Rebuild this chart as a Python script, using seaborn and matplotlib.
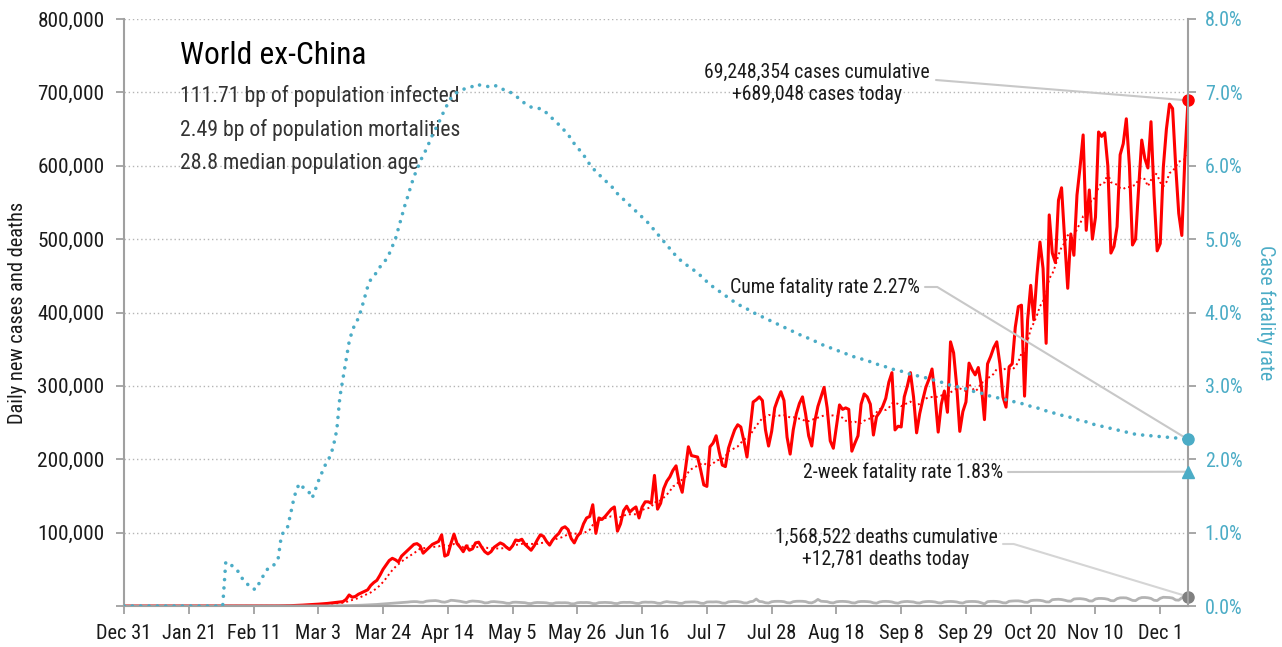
import numpy as np
import pandas as pd
import matplotlib
matplotlib.use('Agg')
import matplotlib.pyplot as plt
from matplotlib import font_manager as fm
import seaborn as sns

# daily data, Dec 31 2019 .. Dec 10 2020
start_date = '2019-12-31'

# new cases per day, thousands
cases_k = [
    0, 0, 0, 0, 0, 0, 0, 0, 0, 0, 0, 0, 0, 0, 0, 0, 0, 0, 0, 0, 0, 0, 0, 0, 0, 0, 0, 0, 0, 0,
    0.01, 0.02, 0.02, 0.02, 0.03, 0.03, 0.04, 0.03, 0.05, 0.04, 0.06, 0.05, 0.04, 0.05, 0.06,
    0.07, 0.08, 0.09, 0.1, 0.12, 0.15, 0.2, 0.3, 0.35, 0.45, 0.6, 0.8, 1.0, 1.2, 1.5,
    1.8, 2.0, 2.2, 2.5, 2.8, 3.0, 3.5, 4.0, 4.5, 5.0,
    5.5, 6, 9, 15, 12, 13, 16, 18, 20, 22,
    28, 32, 35, 42, 50, 56, 62, 65, 63, 60,
    68, 72, 76, 80, 84, 85, 82, 72, 76, 80,
    84, 86, 88, 97, 68, 70, 85, 98, 85, 80,
    74, 82, 76, 78, 86, 87, 80, 74, 71, 74,
    80, 83, 86, 84, 80, 77, 82, 90, 89, 91,
    84, 80, 76, 82, 90, 97, 95, 88, 83, 90,
    95, 99, 106, 108, 104, 92, 86, 95, 100, 112,
    120, 122, 138, 99, 120, 118, 122, 127, 132, 135,
    102, 112, 130, 136, 128, 132, 135, 120, 135, 142,
    142, 140, 178, 132, 140, 160, 170, 176, 185, 191,
    168, 155, 185, 217, 205, 204, 203, 185, 165, 163,
    217, 222, 232, 210, 192, 190, 215, 228, 240, 247,
    244, 225, 203, 240, 278, 281, 285, 280, 240, 218,
    238, 270, 282, 292, 280, 230, 207, 240, 262, 276,
    285, 262, 232, 218, 252, 272, 285, 298, 270, 225,
    215, 245, 274, 268, 270, 268, 211, 222, 232, 275,
    289, 285, 275, 233, 258, 264, 272, 283, 305, 318,
    240, 245, 244, 285, 300, 318, 285, 236, 262, 281,
    298, 309, 323, 285, 237, 275, 293, 264, 360, 345,
    300, 238, 265, 278, 331, 322, 315, 325, 300, 254,
    330, 340, 352, 360, 330, 285, 271, 326, 330, 380,
    408, 410, 286, 390, 437, 390, 450, 496, 460, 358,
    533, 481, 468, 553, 570, 500, 433, 507, 478, 560,
    598, 642, 512, 567, 500, 530, 646, 640, 645, 600,
    481, 490, 517, 615, 630, 664, 600, 492, 500, 570,
    635, 610, 597, 660, 560, 484, 494, 598, 650, 684,
    678, 600, 535, 505, 612, 689.048,
]

# new deaths per day, thousands
deaths_k = [
    0, 0, 0, 0, 0, 0, 0, 0, 0, 0, 0, 0, 0, 0, 0, 0, 0, 0, 0, 0, 0, 0, 0, 0, 0,
    0, 0, 0, 0, 0, 0, 0, 0, 0, 0, 0, 0, 0, 0, 0, 0, 0, 0, 0, 0, 0, 0, 0, 0, 0,
    0.01, 0.01, 0.02, 0.02, 0.03, 0.03, 0.04, 0.05, 0.05, 0.06,
    0.07, 0.08, 0.1, 0.1, 0.12, 0.15, 0.18, 0.2, 0.25, 0.3,
    0.35, 0.4, 0.5, 0.55, 0.7, 0.8, 0.9, 1.1, 1.3, 1.5,
    1.7, 1.9, 2.1, 2.5, 2.8, 3.1, 3.3, 3.6, 4.0, 4.3,
    4.6, 5.0, 5.3, 5.8, 6.0, 5.9, 5.2, 5.1, 6.5, 7.0,
    7.2, 7.4, 6.8, 5.6, 5.2, 6.2, 7.8, 7.5, 7.0, 6.4,
    5.5, 4.8, 6.2, 6.8, 6.5, 6.2, 5.5, 4.2, 4.5, 5.8,
    6.0, 5.6, 5.3, 4.8, 3.8, 3.6, 5.0, 5.2, 5.0, 4.8,
    4.5, 3.5, 3.3, 4.4, 4.8, 4.7, 4.6, 4.3, 3.4, 3.2,
    4.3, 4.5, 4.4, 4.5, 4.2, 3.0, 3.0, 4.4, 4.8, 4.7,
    4.8, 4.5, 3.3, 3.2, 4.6, 4.8, 4.9, 4.7, 4.5, 3.5,
    3.3, 4.7, 5.0, 4.9, 5.0, 4.6, 3.6, 3.4, 5.0, 5.3,
    5.1, 5.2, 4.9, 3.8, 3.6, 5.2, 6.0, 5.3, 5.1, 4.8,
    3.7, 3.6, 5.2, 5.4, 5.5, 5.5, 5.1, 3.8, 3.5, 5.4,
    5.6, 5.5, 5.7, 5.3, 4.0, 3.8, 5.6, 6.0, 6.2, 6.0,
    5.4, 4.2, 4.1, 5.8, 6.4, 9.5, 6.2, 5.8, 4.4, 4.0,
    5.8, 6.3, 6.4, 6.3, 5.9, 4.5, 4.2, 5.9, 6.4, 6.5,
    6.4, 6.0, 4.6, 4.3, 6.0, 9.0, 6.5, 6.2, 5.9, 4.6,
    4.2, 5.7, 6.2, 6.3, 6.1, 5.6, 4.4, 4.1, 5.7, 6.2,
    6.2, 6.0, 5.6, 4.3, 3.8, 5.5, 6.2, 6.3, 6.1, 5.5,
    4.3, 3.8, 5.4, 6.0, 6.2, 5.9, 5.5, 4.3, 4.0, 5.5,
    6.0, 6.2, 6.0, 5.5, 4.4, 4.1, 5.6, 6.0, 6.2, 6.0,
    5.5, 4.4, 4.0, 5.7, 6.1, 6.2, 6.1, 5.6, 4.3, 2.8,
    5.9, 6.3, 6.4, 6.2, 5.6, 4.4, 4.2, 6.4, 6.8, 7.0,
    7.0, 6.4, 5.2, 5.0, 7.3, 7.8, 7.9, 7.7, 7.0, 5.6,
    5.5, 8.6, 9.0, 9.2, 8.8, 7.9, 6.8, 6.6, 9.5, 9.9,
    10.0, 9.6, 8.8, 6.9, 6.8, 9.6, 10.3, 10.3, 10.0, 9.2,
    7.3, 7.1, 10.0, 11.1, 11.2, 11.0, 9.5, 7.6, 7.3, 10.2,
    11.5, 11.6, 11.2, 10.3, 7.8, 7.4, 10.5, 11.9, 11.7, 11.5,
    10.8, 8.2, 7.9, 11.2, 12.3, 12.781,
]

# cumulative case fatality rate, percent
cfr_pct = [
    0, 0, 0, 0, 0, 0, 0, 0, 0, 0, 0, 0, 0, 0, 0, 0, 0, 0, 0, 0, 0, 0, 0, 0, 0, 0, 0, 0, 0, 0,
    0, 0, 0,
    0.6, 0.59, 0.55, 0.52, 0.47, 0.4, 0.33, 0.3, 0.25, 0.23, 0.23, 0.33, 0.4, 0.48, 0.52,
    0.53, 0.58, 0.65, 0.95, 1.03, 1.07, 1.25, 1.45, 1.6, 1.67, 1.62, 1.58, 1.55, 1.47,
    1.58, 1.7, 1.8, 1.9, 1.98, 2.05, 2.2,
    2.4,
    2.85, 3.1, 3.35, 3.6, 3.75, 3.85, 3.92, 4.05, 4.2, 4.35,
    4.45, 4.5, 4.55, 4.62, 4.68, 4.72, 4.8, 4.9, 5.0, 5.15,
    5.3, 5.45, 5.58, 5.72, 5.85, 5.95, 6.05, 6.15, 6.22, 6.32,
    6.42, 6.5, 6.58, 6.68, 6.76, 6.85, 6.92, 6.97, 7.0, 7.02,
    7.04, 7.06, 7.07, 7.08, 7.07, 7.1, 7.1, 7.09, 7.08, 7.09,
    7.1, 7.08, 7.05, 7.04, 7.03, 7.01, 6.98, 6.95, 6.92, 6.88,
    6.85, 6.82, 6.8, 6.79, 6.78, 6.78, 6.76, 6.72, 6.68, 6.64,
    6.6, 6.56, 6.52, 6.47, 6.42, 6.37, 6.3, 6.25, 6.2, 6.15,
    6.08, 6.02, 5.97, 5.92, 5.88, 5.84, 5.8, 5.76, 5.72, 5.68,
    5.62, 5.58, 5.54, 5.5, 5.46, 5.42, 5.38, 5.34, 5.3, 5.26,
    5.22, 5.17, 5.12, 5.07, 5.02, 4.97, 4.92, 4.87, 4.82, 4.77,
    4.73, 4.69, 4.66, 4.63, 4.6, 4.57, 4.54, 4.5, 4.46, 4.42,
    4.38, 4.35, 4.32, 4.29, 4.26, 4.23, 4.2, 4.17, 4.14, 4.12,
    4.09, 4.07, 4.05, 4.02, 4.0, 3.98, 3.96, 3.94, 3.92, 3.9,
    3.88, 3.86, 3.84, 3.82, 3.8, 3.78, 3.76, 3.74, 3.72, 3.7,
    3.68, 3.66, 3.65, 3.63, 3.61, 3.59, 3.57, 3.55, 3.54, 3.52,
    3.5, 3.49, 3.47, 3.45, 3.44, 3.42, 3.41, 3.39, 3.38, 3.37,
    3.35, 3.34, 3.33, 3.31, 3.3, 3.28, 3.27, 3.26, 3.24, 3.23,
    3.22, 3.21, 3.2, 3.19, 3.17, 3.16, 3.15, 3.14, 3.13, 3.12,
    3.11, 3.1, 3.09, 3.07, 3.06, 3.05, 3.04, 3.02, 3.01, 3.0,
    2.99, 2.98, 2.97, 2.96, 2.94, 2.93, 2.92, 2.91, 2.9, 2.89,
    2.87, 2.86, 2.85, 2.84, 2.83, 2.82, 2.81, 2.8, 2.79, 2.78,
    2.77, 2.76, 2.75, 2.74, 2.72, 2.71, 2.7, 2.69, 2.67, 2.66,
    2.65, 2.64, 2.62, 2.61, 2.6, 2.59, 2.58, 2.57, 2.55, 2.54,
    2.53, 2.52, 2.51, 2.5, 2.48, 2.47, 2.46, 2.45, 2.44, 2.43,
    2.42, 2.41, 2.4, 2.39, 2.38, 2.37, 2.36, 2.35, 2.34, 2.34,
    2.33, 2.33, 2.32, 2.32, 2.31, 2.31, 2.31, 2.3, 2.3, 2.3,
    2.29, 2.29, 2.28, 2.28, 2.27, 2.27,
]

tick_labels = ['Dec 31', 'Jan 21', 'Feb 11', 'Mar 3', 'Mar 24', 'Apr 14', 'May 5', 'May 26',
               'Jun 16', 'Jul 7', 'Jul 28', 'Aug 18', 'Sep 8', 'Sep 29', 'Oct 20', 'Nov 10', 'Dec 1']

region = 'World ex-China'
infected_bp = 111.71
mortality_bp = 2.49
median_age = 28.8
cum_cases = 69248354
cum_deaths = 1568522
two_week_cfr = 1.83

RED = '#ff0000'
BLUE = '#4bacc6'
GRAY = '#a6a6a6'
AXIS = '#a0a0a0'
TXT = '#1a1a1a'

dates = pd.date_range(start_date, periods=len(cases_k), freq='D')
df = pd.DataFrame({'date': dates,
                   'cases': np.array(cases_k) * 1000,
                   'deaths': np.array(deaths_k) * 1000,
                   'cfr': cfr_pct})
df['avg7'] = df['cases'].rolling(7, min_periods=1).mean()

sns.set_theme(style='white')

# pick a narrow sans if one is installed
fonts = [(f.name, str(f.stretch)) for f in fm.fontManager.ttflist]
font_name, font_stretch = 'Roboto', 'normal'
for want in ['Roboto Condensed', 'Liberation Sans Narrow', 'Open Sans Condensed']:
    if any(n == want for n, _ in fonts):
        font_name = want
        break
else:
    for base in ['Roboto', 'Open Sans', 'DejaVu Sans', 'Noto Sans']:
        if any(n == base and 'condensed' in s for n, s in fonts):
            font_name, font_stretch = base, 'condensed'
            break
plt.rcParams['font.family'] = [font_name, 'DejaVu Sans']
plt.rcParams['font.stretch'] = font_stretch

fig, ax = plt.subplots(figsize=(12.82, 6.47), dpi=100)
fig.subplots_adjust(left=124 / 1282, right=1188 / 1282, top=1 - 19 / 647, bottom=1 - 606 / 647)
renderer = fig.canvas.get_renderer()


def fit(s, width_px, base):
    # font size that gives the text roughly the reference width
    t = fig.text(0, 0, s, fontsize=base)
    w = t.get_window_extent(renderer).width
    t.remove()
    return max(base * width_px / w, 0.8 * base)


fs_title = fit('World ex-China', 187, 23.5)
fs_stat = fit('111.71 bp of population infected', 280, 17)
fs_note = fit('69,248,354 cases cumulative', 226, 15)
fs_tick = fit('800,000', 67, 13.5)
fs_xtick = fit('Dec 31', 55, 13.5)
fs_rtick = fit('7.0%', 38, 13.5)
fs_ylab = fit('Daily new cases and deaths', 222, 14.5)
fs_rlab = fit('Case fatality rate', 135, 15)

ax.grid(axis='y', color='#b5b5b5', linestyle=(0, (1, 2)), lw=1)
sns.lineplot(data=df, x='date', y='cases', color=RED, lw=2.2, ax=ax)
sns.lineplot(data=df, x='date', y='avg7', color=RED, lw=1.4, linestyle=(0, (1, 1.6)), ax=ax)
sns.lineplot(data=df, x='date', y='deaths', color=GRAY, lw=2.0, alpha=0.85, ax=ax)

last = df.iloc[-1]
ax.plot([last['date']], [last['cases']], 'o', color=RED, ms=8, clip_on=False, zorder=6)
ax.plot([last['date']], [last['deaths']], 'o', color='#808080', ms=8, clip_on=False, zorder=6)

ax2 = ax.twinx()
sns.lineplot(data=df, x='date', y='cfr', color=BLUE, lw=2.6, linestyle=(0, (0.01, 2.3)),
             dash_capstyle='round', ax=ax2)
ax2.plot([last['date']], [last['cfr']], 'o', color=BLUE, ms=8, clip_on=False, zorder=6)
ax2.plot([last['date']], [two_week_cfr], '^', color=BLUE, ms=9, clip_on=False, zorder=6)

# axes
ax.set_xlim(dates[0], dates[-1])
ax2.set_xlim(dates[0], dates[-1])
ax.set_ylim(0, 800000)
ax2.set_ylim(0, 8)
tick_pos = pd.date_range(start_date, periods=len(tick_labels), freq='21D')
ax.set_xticks(tick_pos)
ax.set_xticklabels(tick_labels, fontsize=fs_xtick)
yt = np.arange(0, 800001, 100000)
ax.set_yticks(yt)
ax.set_yticklabels(['' if v == 0 else f'{v:,}' for v in yt], fontsize=fs_tick)
ax2.set_yticks(np.arange(0, 9))
ax2.set_yticklabels([f'{v:.1f}%' for v in range(9)], fontsize=fs_rtick)

ax.set_xlabel('')
ax.set_ylabel('Daily new cases and deaths', fontsize=fs_ylab, color=TXT)
ax.yaxis.set_label_coords(-0.091, 0.5)
ax2.set_ylabel('Case fatality rate', fontsize=fs_rlab, color=BLUE, rotation=270, va='bottom')
ax2.yaxis.set_label_coords(1.064, 0.5)

ax.spines['top'].set_visible(False)
ax2.spines['top'].set_visible(False)
ax.spines['right'].set_visible(False)
ax2.spines['left'].set_visible(False)
ax2.spines['bottom'].set_visible(False)
for s in [ax.spines['left'], ax.spines['bottom'], ax2.spines['right']]:
    s.set_color(AXIS)
    s.set_linewidth(1.5)

ax.tick_params(axis='both', length=6, width=1.3, color=AXIS, labelcolor=TXT, left=True, bottom=True)
ax.tick_params(axis='x', pad=7)
ax.tick_params(axis='y', pad=8)
ax2.tick_params(axis='y', length=6, width=1.3, color=AXIS, labelcolor=BLUE, right=True, pad=6)


# headline text
def fx(px):
    return (px - 124) / 1064


def fy(py):
    return (606 - py) / 587


ax.text(fx(180), fy(55), region, transform=ax.transAxes, fontsize=fs_title, color='black',
        ha='left', va='center')
stats = [f'{infected_bp:.2f} bp of population infected',
         f'{mortality_bp:.2f} bp of population mortalities',
         f'{median_age:.1f} median population age']
for i, line in enumerate(stats):
    ax.text(fx(180), fy(96 + 34 * i), line, transform=ax.transAxes, fontsize=fs_stat,
            color='#333333', ha='left', va='center')

# callouts
conn = dict(arrowstyle='-', color='#c8c8c8', lw=1.5, shrinkA=0, shrinkB=0)

ax.text(fx(817), fy(83.5), f'{cum_cases:,} cases cumulative\n+{int(round(last["cases"])):,} cases today',
        transform=ax.transAxes, fontsize=fs_note, color=TXT, ha='center', va='center',
        multialignment='center', linespacing=1.25)
ax.annotate('', xy=(last['date'], last['cases']), xycoords='data',
            xytext=(936, 647 - 80), textcoords='figure pixels', arrowprops=conn)

ax2.text(fx(920), fy(287), f'Cume fatality rate {last["cfr"]:.2f}%', transform=ax.transAxes,
         fontsize=fs_note, color=TXT, ha='right', va='center')
ax2.annotate('', xy=(last['date'], last['cfr']), xycoords='data',
             xytext=(925, 647 - 287), textcoords='figure pixels',
             arrowprops=dict(conn, connectionstyle='angle,angleA=0,angleB=148.7,rad=0'))

ax2.text(fx(1003), fy(472), f'2-week fatality rate {two_week_cfr:.2f}%', transform=ax.transAxes,
         fontsize=fs_note, color=TXT, ha='right', va='center')
ax2.annotate('', xy=(last['date'], two_week_cfr), xycoords='data',
             xytext=(1008, 647 - 472), textcoords='figure pixels', arrowprops=conn)

ax.text(fx(886), fy(548.5), f'{cum_deaths:,} deaths cumulative\n+{int(round(last["deaths"])):,} deaths today',
        transform=ax.transAxes, fontsize=fs_note, color=TXT, ha='center', va='center',
        multialignment='center', linespacing=1.25)
ax.annotate('', xy=(last['date'], last['deaths']), xycoords='data',
            xytext=(1003, 647 - 544), textcoords='figure pixels',
            arrowprops=dict(conn, color='#d5d5d5', connectionstyle='angle,angleA=0,angleB=163.2,rad=0'))

fig.savefig('out.png', dpi=100)
